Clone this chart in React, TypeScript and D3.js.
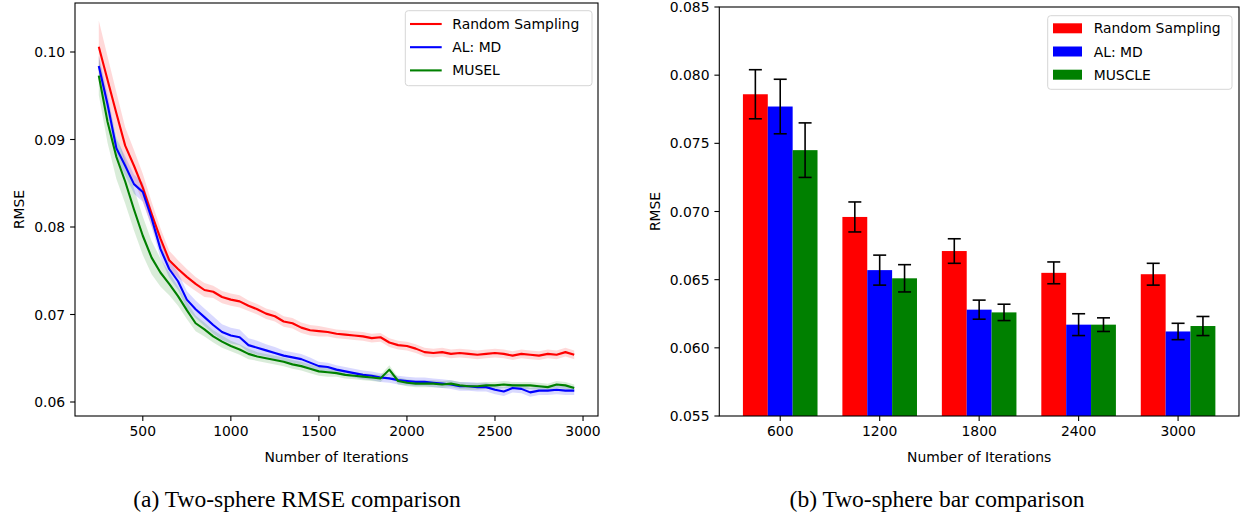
import React from 'react';
import * as d3 from 'd3';

// ---- left panel: RMSE vs iterations ----
const iterations = [250, 300, 350, 400, 450, 500, 550, 600, 650, 700, 750, 800, 850, 900, 950, 1000, 1050, 1100, 1150, 1200, 1250, 1300, 1350, 1400, 1450, 1500, 1550, 1600, 1650, 1700, 1750, 1800, 1850, 1900, 1950, 2000, 2050, 2100, 2150, 2200, 2250, 2300, 2350, 2400, 2450, 2500, 2550, 2600, 2650, 2700, 2750, 2800, 2850, 2900, 2950];

const randomMean = [0.1006, 0.0968, 0.0930, 0.0893, 0.0870, 0.0845, 0.0815, 0.0787, 0.0762, 0.0752, 0.0743, 0.0735, 0.0728, 0.0726, 0.0720, 0.0717, 0.0715, 0.0710, 0.0706, 0.0701, 0.0698, 0.0692, 0.0690, 0.0685, 0.0682, 0.0681, 0.0680, 0.0678, 0.0677, 0.0676, 0.0675, 0.0673, 0.0674, 0.0668, 0.0665, 0.0664, 0.0661, 0.0657, 0.0656, 0.0657, 0.0655, 0.0656, 0.0655, 0.0654, 0.0655, 0.0656, 0.0655, 0.0653, 0.0655, 0.0654, 0.0653, 0.0655, 0.0654, 0.0657, 0.0654];
const randomStd = [0.0030, 0.0027, 0.0024, 0.0021, 0.0018, 0.0016, 0.0014, 0.0012, 0.0011, 0.0010, 0.0009, 0.0008, 0.0008, 0.0007, 0.0007, 0.0007, 0.0007, 0.0006, 0.0006, 0.0006, 0.0006, 0.0006, 0.0006, 0.0006, 0.0006, 0.0006, 0.0005, 0.0005, 0.0005, 0.0005, 0.0005, 0.0005, 0.0005, 0.0005, 0.0005, 0.0005, 0.0005, 0.0005, 0.0005, 0.0005, 0.0005, 0.0005, 0.0005, 0.0005, 0.0005, 0.0005, 0.0005, 0.0005, 0.0005, 0.0005, 0.0005, 0.0005, 0.0005, 0.0005, 0.0005];

const mdMean = [0.0984, 0.0940, 0.0890, 0.0870, 0.0849, 0.0840, 0.0810, 0.0775, 0.0752, 0.0738, 0.0717, 0.0706, 0.0697, 0.0688, 0.0680, 0.0676, 0.0674, 0.0665, 0.0662, 0.0659, 0.0656, 0.0653, 0.0651, 0.0649, 0.0645, 0.0641, 0.0640, 0.0637, 0.0635, 0.0633, 0.0631, 0.0630, 0.0628, 0.0627, 0.0625, 0.0624, 0.0623, 0.0623, 0.0622, 0.0621, 0.0620, 0.0618, 0.0618, 0.0617, 0.0617, 0.0614, 0.0612, 0.0616, 0.0615, 0.0611, 0.0613, 0.0613, 0.0614, 0.0613, 0.0613];
const mdStd = [0.0012, 0.0012, 0.0011, 0.0011, 0.0011, 0.0011, 0.0010, 0.0010, 0.0010, 0.0010, 0.0010, 0.0010, 0.0010, 0.0010, 0.0009, 0.0009, 0.0009, 0.0008, 0.0008, 0.0007, 0.0007, 0.0006, 0.0006, 0.0006, 0.0006, 0.0005, 0.0005, 0.0005, 0.0005, 0.0005, 0.0005, 0.0005, 0.0005, 0.0005, 0.0005, 0.0005, 0.0005, 0.0005, 0.0005, 0.0005, 0.0005, 0.0005, 0.0005, 0.0005, 0.0005, 0.0005, 0.0005, 0.0005, 0.0005, 0.0005, 0.0005, 0.0005, 0.0005, 0.0005, 0.0005];

const muselMean = [0.0973, 0.0920, 0.0880, 0.0852, 0.0820, 0.0790, 0.0765, 0.0748, 0.0735, 0.0721, 0.0705, 0.0690, 0.0683, 0.0675, 0.0669, 0.0664, 0.0660, 0.0655, 0.0652, 0.0650, 0.0648, 0.0646, 0.0643, 0.0641, 0.0638, 0.0635, 0.0634, 0.0633, 0.0631, 0.0630, 0.0629, 0.0628, 0.0627, 0.0637, 0.0624, 0.0622, 0.0621, 0.0621, 0.0621, 0.0620, 0.0621, 0.0619, 0.0618, 0.0618, 0.0619, 0.0619, 0.0620, 0.0619, 0.0619, 0.0619, 0.0618, 0.0617, 0.0620, 0.0619, 0.0616];
const muselStd = [0.0022, 0.0024, 0.0025, 0.0025, 0.0024, 0.0022, 0.0019, 0.0016, 0.0013, 0.0011, 0.0010, 0.0009, 0.0008, 0.0007, 0.0007, 0.0006, 0.0006, 0.0006, 0.0005, 0.0005, 0.0005, 0.0005, 0.0005, 0.0005, 0.0005, 0.0005, 0.0005, 0.0004, 0.0004, 0.0004, 0.0004, 0.0004, 0.0004, 0.0005, 0.0004, 0.0004, 0.0004, 0.0004, 0.0004, 0.0004, 0.0004, 0.0004, 0.0004, 0.0004, 0.0004, 0.0004, 0.0004, 0.0004, 0.0004, 0.0004, 0.0004, 0.0004, 0.0004, 0.0004, 0.0004];

const lineLabels = ['Random Sampling', 'AL: MD', 'MUSEL'];
const leftXTicks = [500, 1000, 1500, 2000, 2500, 3000];
const leftYTicks = [0.06, 0.07, 0.08, 0.09, 0.10];

// ---- right panel: bars ----
const barCategories = ['600', '1200', '1800', '2400', '3000'];
const barLabels = ['Random Sampling', 'AL: MD', 'MUSCLE'];
const barRandom = [0.0786, 0.0696, 0.0671, 0.0655, 0.0654];
const barRandomErr = [0.0018, 0.0011, 0.0009, 0.0008, 0.0008];
const barMD = [0.0777, 0.0657, 0.0628, 0.0617, 0.0612];
const barMDErr = [0.0020, 0.0011, 0.0007, 0.0008, 0.0006];
const barMuscle = [0.0745, 0.0651, 0.0626, 0.0617, 0.0616];
const barMuscleErr = [0.0020, 0.0010, 0.0006, 0.0005, 0.0007];
const rightYTicks = [0.055, 0.060, 0.065, 0.070, 0.075, 0.080, 0.085];

const colors = ['#ff0000', '#0000ff', '#008000'];
const font = 'DejaVu Sans, sans-serif';
const fs = 13.9;

export default function App() {
  // left panel geometry
  const L = { x0: 75, x1: 598, y0: 3, y1: 416 };
  const xL = d3.scaleLinear().domain([115, 3085]).range([L.x0, L.x1]);
  const yL = d3.scaleLinear().domain([0.0584, 0.1056]).range([L.y1, L.y0]);

  const series = [
    { mean: randomMean, std: randomStd },
    { mean: mdMean, std: mdStd },
    { mean: muselMean, std: muselStd },
  ];
  const line = d3.line<number>().x((_, i) => xL(iterations[i])).y(d => yL(d));

  // right panel geometry
  const R = { x0: 719.3, x1: 1239, y0: 7, y1: 416 };
  const xR = d3.scaleLinear().domain([-0.6125, 4.6125]).range([R.x0, R.x1]);
  const yR = d3.scaleLinear().domain([0.055, 0.085]).range([R.y1, R.y0]);
  const barW = 0.25;
  const bars = [
    { vals: barRandom, err: barRandomErr },
    { vals: barMD, err: barMDErr },
    { vals: barMuscle, err: barMuscleErr },
  ];

  const tick = 4.9;
  const pad = 4.9;

  return (
    <svg width={1244} height={521} style={{ position: 'absolute', left: 0, top: 0 }} fontFamily={font}>
      <rect width={1244} height={521} fill="white" />

      {/* ===== left panel ===== */}
      <g>
        {series.map((s, k) => {
          const area = d3.area<number>()
            .x((_, i) => xL(iterations[i]))
            .y0((d, i) => yL(d - s.std[i]))
            .y1((d, i) => yL(d + s.std[i]));
          return <path key={'a' + k} d={area(s.mean) || ''} fill={colors[k]} fillOpacity={0.15} stroke="none" />;
        })}
        {series.map((s, k) => (
          <path key={'l' + k} d={line(s.mean) || ''} fill="none" stroke={colors[k]} strokeWidth={2.1} strokeLinejoin="round" />
        ))}
        <rect x={L.x0} y={L.y0} width={L.x1 - L.x0} height={L.y1 - L.y0} fill="none" stroke="black" strokeWidth={1.1} />
        {leftXTicks.map(t => (
          <g key={t}>
            <line x1={xL(t)} x2={xL(t)} y1={L.y1} y2={L.y1 + tick} stroke="black" strokeWidth={1.1} />
            <text x={xL(t)} y={L.y1 + tick + pad} dy="0.76em" textAnchor="middle" fontSize={fs}>{t}</text>
          </g>
        ))}
        {leftYTicks.map(t => (
          <g key={t}>
            <line x1={L.x0 - tick} x2={L.x0} y1={yL(t)} y2={yL(t)} stroke="black" strokeWidth={1.1} />
            <text x={L.x0 - tick - pad} y={yL(t)} dy="0.36em" textAnchor="end" fontSize={fs}>{t.toFixed(2)}</text>
          </g>
        ))}
        <text x={(L.x0 + L.x1) / 2} y={461.7} textAnchor="middle" fontSize={fs}>Number of Iterations</text>
        <text transform={`translate(24,${(L.y0 + L.y1) / 2}) rotate(-90)`} textAnchor="middle" fontSize={fs}>RMSE</text>

        {/* legend */}
        <rect x={405.3} y={10.7} width={186.7} height={75} rx={3} fill="white" fillOpacity={0.8} stroke="#d6d6d6" strokeWidth={1} />
        {lineLabels.map((lab, k) => (
          <g key={lab} transform={`translate(0,${24 + k * 23.2})`}>
            <line x1={410} x2={441.7} y1={0} y2={0} stroke={colors[k]} strokeWidth={2.1} />
            <text x={452.3} y={0} dy="0.36em" fontSize={fs}>{lab}</text>
          </g>
        ))}
      </g>

      {/* ===== right panel ===== */}
      <g>
        {bars.map((b, k) => b.vals.map((v, i) => (
          <rect key={`b${k}-${i}`}
            x={xR(i + (k - 1) * barW - barW / 2)}
            width={xR(barW) - xR(0)}
            y={yR(v)}
            height={yR(0.055) - yR(v)}
            fill={colors[k]} />
        )))}
        {bars.map((b, k) => b.vals.map((v, i) => {
          const cx = xR(i + (k - 1) * barW);
          const top = yR(v + b.err[i]);
          const bot = yR(v - b.err[i]);
          return (
            <g key={`e${k}-${i}`} stroke="black" strokeWidth={1.6}>
              <line x1={cx} x2={cx} y1={top} y2={bot} />
              <line x1={cx - 6.5} x2={cx + 6.5} y1={top} y2={top} />
              <line x1={cx - 6.5} x2={cx + 6.5} y1={bot} y2={bot} />
            </g>
          );
        }))}
        <rect x={R.x0} y={R.y0} width={R.x1 - R.x0} height={R.y1 - R.y0} fill="none" stroke="black" strokeWidth={1.1} />
        {barCategories.map((c, i) => (
          <g key={c}>
            <line x1={xR(i)} x2={xR(i)} y1={R.y1} y2={R.y1 + tick} stroke="black" strokeWidth={1.1} />
            <text x={xR(i)} y={R.y1 + tick + pad} dy="0.76em" textAnchor="middle" fontSize={fs}>{c}</text>
          </g>
        ))}
        {rightYTicks.map(t => (
          <g key={t}>
            <line x1={R.x0 - tick} x2={R.x0} y1={yR(t)} y2={yR(t)} stroke="black" strokeWidth={1.1} />
            <text x={R.x0 - tick - pad} y={yR(t)} dy="0.36em" textAnchor="end" fontSize={fs}>{t.toFixed(3)}</text>
          </g>
        ))}
        <text x={(R.x0 + R.x1) / 2} y={461.7} textAnchor="middle" fontSize={fs}>Number of Iterations</text>
        <text transform={`translate(660,${(R.y0 + R.y1) / 2}) rotate(-90)`} textAnchor="middle" fontSize={fs}>RMSE</text>

        <rect x={1047.7} y={15.7} width={184.3} height={73.6} rx={3} fill="white" fillOpacity={0.8} stroke="#d6d6d6" strokeWidth={1} />
        {barLabels.map((lab, k) => (
          <g key={lab} transform={`translate(0,${28.3 + k * 23.2})`}>
            <rect x={1053} y={-5} width={29} height={10} fill={colors[k]} />
            <text x={1093.7} y={0} dy="0.36em" fontSize={fs}>{lab}</text>
          </g>
        ))}
      </g>

      {/* captions */}
      <text x={297} y={506.7} textAnchor="middle" fontFamily="Liberation Serif, serif" fontSize={23.5}>(a) Two-sphere RMSE comparison</text>
      <text x={937} y={506.7} textAnchor="middle" fontFamily="Liberation Serif, serif" fontSize={23.5}>(b) Two-sphere bar comparison</text>
    </svg>
  );
}
